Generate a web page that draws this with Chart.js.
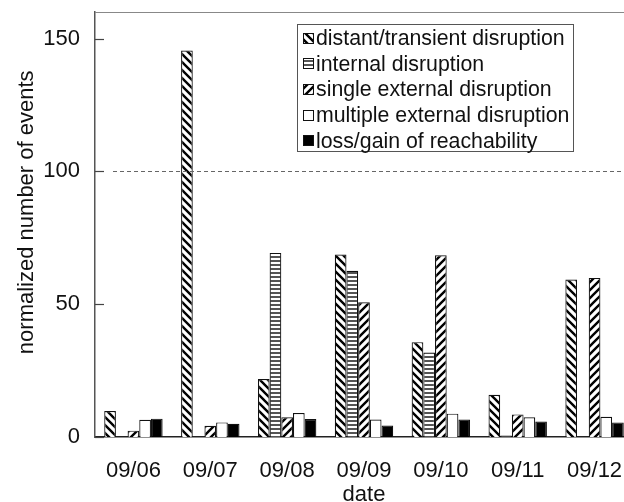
<!DOCTYPE html>
<html>
<head>
<meta charset="utf-8">
<title>normalized number of events</title>
<script src="https://cdn.jsdelivr.net/npm/chart.js@4.4.1/dist/chart.umd.min.js"></script>
<style>
  html, body { margin: 0; padding: 0; overflow: hidden; background: #fff; }
  canvas { display: block; }
</style>
</head>
<body>
<canvas id="eventsChart" width="634" height="502"></canvas>
<script>
// grouped bar chart of disruption events per day, black and white hatched bars

"use strict";

const dates = ['09/06', '09/07', '09/08', '09/09', '09/10', '09/11', '09/12'];

const seriesNames = [
  'distant/transient disruption',
  'internal disruption',
  'single external disruption',
  'multiple external disruption',
  'loss/gain of reachability'
];

const distant  = [9.8, 145.5, 21.8, 68.7, 35.7, 15.9, 59.3];
const internal = [0, 0, 69.3, 62.6, 31.8, 0.6, 0];
const single   = [2.4, 4.2, 7.4, 50.7, 68.4, 8.5, 59.9];
const multiple = [6.5, 5.5, 9.0, 6.6, 8.8, 7.4, 7.6];
const loss     = [6.9, 5.0, 6.8, 4.3, 6.6, 5.8, 5.5];

const yTicks = [0, 50, 100, 150];
const yMax = 160;
const refLine = 100;

const FONT = "'Liberation Sans', Arial, Helvetica, sans-serif";

const canvas = document.getElementById('eventsChart');
const ctx = canvas.getContext('2d');

// small tiles for the hatch fills
let makeHatch = function (kind)
{
  const size = kind === 'lines' ? 4 : 8;
  const tile = document.createElement('canvas');
  tile.width = size;
  tile.height = size;
  const g = tile.getContext('2d');
  g.fillStyle = '#fff';
  g.fillRect(0, 0, size, size);
  if (kind === 'lines')
  {
    g.fillStyle = '#555';
    g.fillRect(0, 0, size, 2);
  }
  else
  {
    g.strokeStyle = '#000';
    g.lineWidth = 2.4;
    g.beginPath();
    if (kind === 'back')
    {
      g.moveTo(-2, -2); g.lineTo(size + 2, size + 2);
      g.moveTo(-2, size - 2); g.lineTo(2, size + 2);
      g.moveTo(size - 2, -2); g.lineTo(size + 2, 2);
    }
    else
    {
      g.moveTo(-2, size + 2); g.lineTo(size + 2, -2);
      g.moveTo(-2, 2); g.lineTo(2, -2);
      g.moveTo(size - 2, size + 2); g.lineTo(size + 2, size - 2);
    }
    g.stroke();
  }
  return ctx.createPattern(tile, 'repeat');
};

const fills = [makeHatch('back'), makeHatch('lines'), makeHatch('fwd'), '#fff', '#000'];
const values = [distant, internal, single, multiple, loss];

const datasets = seriesNames.map(function (name, i) {
  return {
    label: name,
    data: values[i],
    backgroundColor: fills[i],
    borderColor: '#111',
    borderWidth: 1.2,
    borderSkipped: 'start',
    barPercentage: 1.0,
    categoryPercentage: 0.76
  };
});

// frame top, inward y ticks, dashed reference line and boxed legend
const extras =
  {
  id: 'extras',
  afterDatasetsDraw: function (chart)
  {
    const c = chart.ctx;
    const area = chart.chartArea;
    const y = chart.scales.y;
    c.save();

    c.strokeStyle = '#888';
    c.lineWidth = 1;
    c.beginPath();
    c.moveTo(area.left, area.top + 0.5);
    c.lineTo(area.right, area.top + 0.5);
    c.stroke();

    c.strokeStyle = '#444';
    c.lineWidth = 1.2;
    yTicks.forEach(function (v) {
      const py = Math.round(y.getPixelForValue(v)) + 0.5;
      c.beginPath();
      c.moveTo(area.left, py);
      c.lineTo(area.left + 9, py);
      c.stroke();
    });

    const ry = Math.round(y.getPixelForValue(refLine)) + 0.5;
    c.strokeStyle = '#666';
    c.lineWidth = 1;
    c.setLineDash([4, 3]);
    c.beginPath();
    c.moveTo(area.left + 18, ry);
    c.lineTo(area.right, ry);
    c.stroke();
    c.setLineDash([]);

    // legend
    const bx = area.left + 202, by = area.top + 12, bw = 276, bh = 127;
    c.fillStyle = '#fff';
    c.fillRect(bx, by, bw, bh);
    c.strokeStyle = '#555';
    c.lineWidth = 1;
    c.strokeRect(bx + 0.5, by + 0.5, bw, bh);

    c.font = '21.3px ' + FONT;
    c.textBaseline = 'middle';
    c.textAlign = 'left';
    chart.data.datasets.forEach(function (ds, i) {
      const cy = by + 14 + i * 25.7;
      c.fillStyle = ds.backgroundColor;
      c.fillRect(bx + 6, Math.round(cy - 5.5), 11, 11);
      c.strokeStyle = '#111';
      c.lineWidth = 1;
      c.strokeRect(bx + 6.5, Math.round(cy - 5.5) + 0.5, 10, 10);
      c.fillStyle = '#111';
      c.fillText(ds.label, bx + 19, cy + 1);
    });

    c.restore();
  }
};

let config =
  {
  type: 'bar',
  data: { labels: dates, datasets: datasets },
  options:
    {
    responsive: false,
    animation: false,
    layout: { padding: { top: 12, right: 1, bottom: 0, left: 0 } },
    plugins:
      {
      legend: { display: false },
      tooltip: { enabled: false }
    },
    scales:
      {
      x:
        {
        grid: { display: false, drawTicks: false },
        border: { display: true, color: '#222', width: 1.5 },
        ticks: { color: '#111', font: { family: FONT, size: 22 }, padding: 21, maxRotation: 0, autoSkip: false },
        title:
          {
          display: true,
          text: 'date',
          color: '#111',
          font: { family: FONT, size: 22, lineHeight: 1 },
          padding: { top: 0, bottom: -4 }
        },
        afterFit: function (scale) {
          scale.height = 65;
          scale.paddingLeft = 0;
          scale.paddingRight = 0;
        }
      },
      y:
        {
        min: 0,
        max: yMax,
        grid: { display: false, drawTicks: false },
        border: { display: true, color: '#555', width: 1.5 },
        ticks:
          {
          stepSize: 50,
          includeBounds: false,
          color: '#111',
          padding: 15,
          font: { family: FONT, size: 22 },
          callback: function (value) {
            return yTicks.indexOf(value) >= 0 ? value : '';
          }
        },
        title:
          {
          display: true,
          text: '    normalized number of events',
          color: '#111',
          font: { family: FONT, size: 22, lineHeight: 1 },
          padding: { top: 16, bottom: 0 }
        },
        afterFit: function (scale) {
          scale.width = 95;
          scale.paddingTop = 0;
          scale.paddingBottom = 0;
        }
      }
    }
  },
  plugins: [extras]
};

const eventsChart = new Chart(ctx, config);
</script>
</body>
</html>
